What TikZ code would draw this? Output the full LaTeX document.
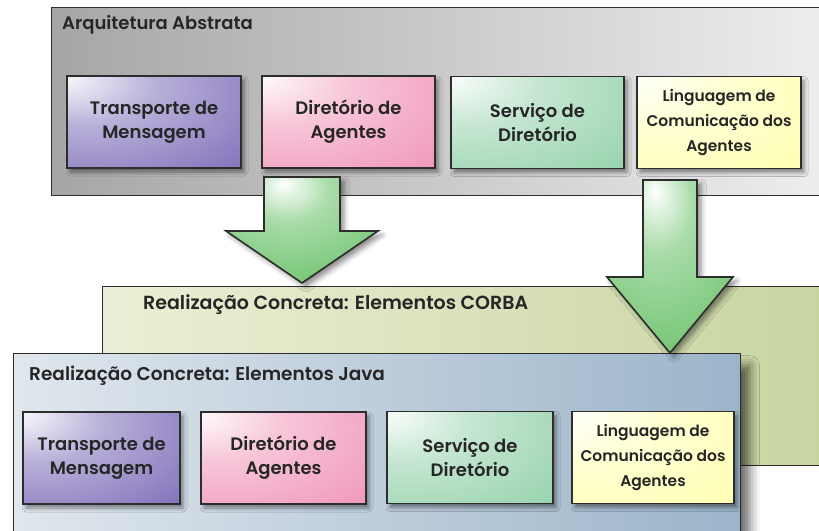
\documentclass[tikz,border=0pt]{standalone}
\usepackage{fontspec}
\setmainfont{Poppins}[UprightFont=* SemiBold]
\usetikzlibrary{shadows.blur}

\pgfdeclareradialshading[boxcolor,boxdark]{glow}{\pgfpoint{-28bp}{26bp}}{%
  color(0bp)=(white);
  color(22bp)=(boxcolor!55!white);
  color(55bp)=(boxcolor);
  color(100bp)=(boxdark)}
\pgfdeclareradialshading[boxcolor,boxdark]{glowarrow}{\pgfpoint{-6bp}{22bp}}{%
  color(0bp)=(white);
  color(14bp)=(boxcolor!60!white);
  color(40bp)=(boxcolor);
  color(80bp)=(boxdark)}

\definecolor{edge}{RGB}{45,45,45}

\begin{document}
\begin{tikzpicture}
[
    x=1pt, y=-1pt,
    panel/.style={draw=edge, line width=1.4pt, inner sep=0pt, anchor=north west},
    title/.style={anchor=west, inner sep=0pt, font=\fontsize{18.5}{22}\selectfont, text=black!85},
    box/.style={draw=edge, line width=1.6pt, inner sep=0pt, align=center,
        minimum height=92pt, font=\fontsize{18}{24}\selectfont, text=black!85,
        blur shadow={shadow xshift=3pt, shadow yshift=-4pt, shadow blur radius=4pt, shadow opacity=45}},
    small/.style={font=\fontsize{15.5}{25}\selectfont},
    glow/.style 2 args={/utils/exec={\colorlet{boxcolor}{#1}\colorlet{boxdark}{#2}}, shade, shading=glow, shading angle=0},
    purple/.style={glow={rgb,255:red,128;green,112;blue,186}{rgb,255:red,38;green,22;blue,108}},
    pink/.style={glow={rgb,255:red,240;green,150;blue,185}{rgb,255:red,228;green,98;blue,148}},
    green/.style={glow={rgb,255:red,150;green,210;blue,172}{rgb,255:red,92;green,178;blue,128}},
    yellow/.style={glow={rgb,255:red,255;green,255;blue,178}{rgb,255:red,255;green,244;blue,118}},
    bigarrow/.style={draw=edge, line width=1.6pt, line join=miter,
        /utils/exec={\colorlet{boxcolor}{rgb,255:red,112;green,196;blue,112}\colorlet{boxdark}{rgb,255:red,58;green,165;blue,72}},
        shade, shading=glowarrow, shading angle=0,
        blur shadow={shadow xshift=4pt, shadow yshift=-4pt, shadow blur radius=5pt, shadow opacity=45}},
]
\useasboundingbox (0,0) rectangle (819,530);

\node [panel, minimum width=790pt, minimum height=188pt,
    left color=black!35, right color=black!6] (abstrata) at (51,7) {};
\node [title, font=\fontsize{18}{22}\selectfont] (abstrata-title) at (62,25) {Arquitetura Abstrata};

\node [box, purple, minimum width=174pt] (transporte1) at (154,122) {Transporte de\\Mensagem};
\node [box, pink, minimum width=173pt] (diretorio1) at (348.5,122) {Diretório de\\Agentes};
\node [box, green, minimum width=173pt] (servico1) at (537.5,122.5) {Serviço de\\Diretório};
\node [box, yellow, small, minimum width=164pt] (linguagem1) at (719,122.5) {Linguagem de\\Comunicação dos\\Agentes};

\node [panel, minimum width=730pt, minimum height=179pt,
    left color={rgb,255:red,236;green,239;blue,214}, right color={rgb,255:red,200;green,212;blue,160}] (corba) at (102,286) {};
\node [title, font=\fontsize{19}{22}\selectfont] (corba-title) at (143,305) {Realização Concreta: Elementos CORBA};

\draw [bigarrow] (264,177) -- (340,177) -- (340,231) -- (378,231) -- (302,283)
    -- (226,231) -- (264,231) -- cycle;

\node [panel, minimum width=727pt, minimum height=190pt,
    left color={rgb,255:red,224;green,231;blue,237}, right color={rgb,255:red,156;green,180;blue,202},
    blur shadow={shadow xshift=9pt, shadow yshift=-12pt, shadow blur radius=10pt, shadow opacity=60}] (java) at (13,353) {};
\node [title] (java-title) at (29,376) {Realização Concreta: Elementos Java};

\node [box, purple, minimum width=157pt] (transporte2) at (101.5,458) {Transporte de\\Mensagem};
\node [box, pink, minimum width=165pt] (diretorio2) at (283.5,458) {Diretório de\\Agentes};
\node [box, green, minimum width=166pt] (servico2) at (470,457.5) {Serviço de\\Diretório};
\node [box, yellow, small, minimum width=162pt] (linguagem2) at (653,457.5) {Linguagem de\\Comunicação dos\\Agentes};

\draw [bigarrow] (643,180) -- (697,180) -- (697,277) -- (733,277) -- (670,353)
    -- (607,277) -- (643,277) -- cycle;
\end{tikzpicture}
\end{document}
